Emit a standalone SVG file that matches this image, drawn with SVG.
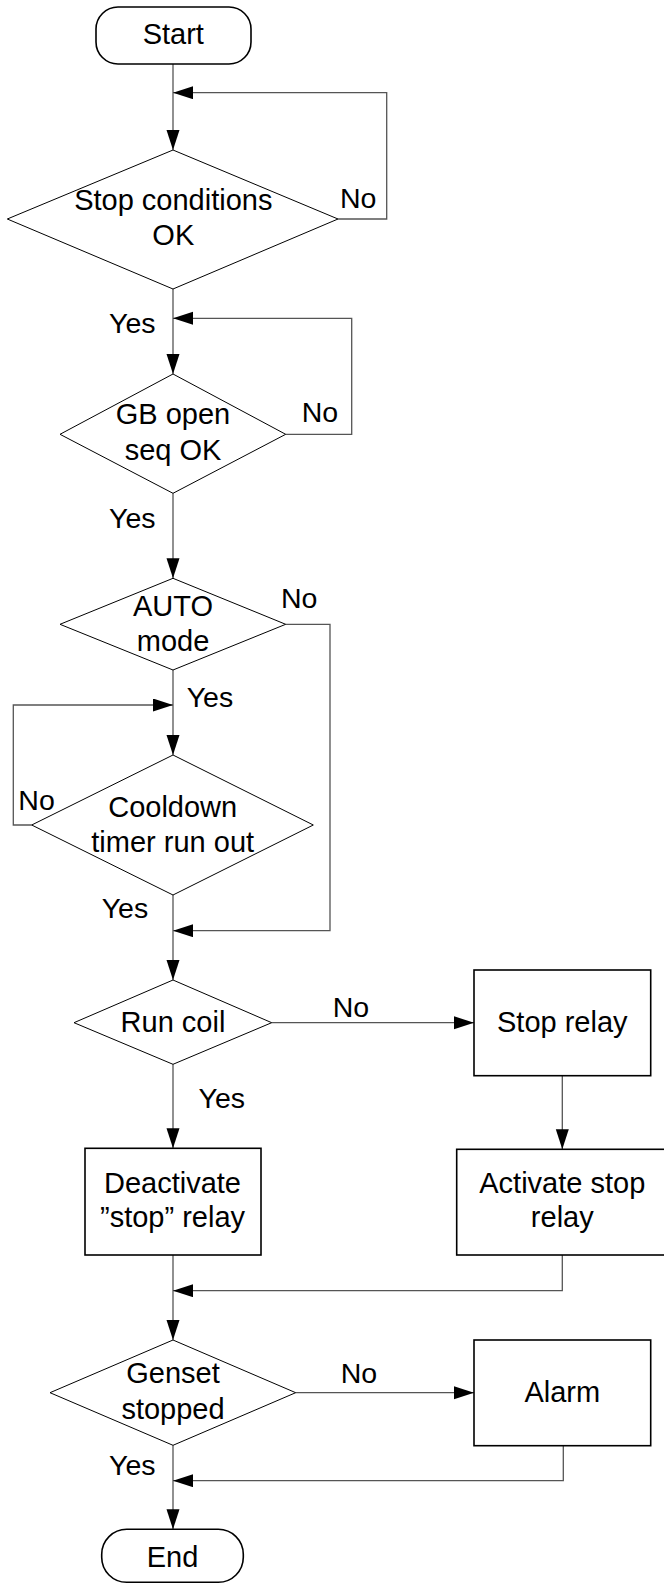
<svg xmlns="http://www.w3.org/2000/svg" width="664" height="1584" viewBox="0 0 664 1584">
<style>
.t{font-family:"Liberation Sans",Arial,sans-serif;font-size:29px;fill:#000;text-anchor:middle}
.l{font-family:"Liberation Sans",Arial,sans-serif;font-size:28.5px;fill:#000}
.d{fill:#fff;stroke:#000;stroke-width:1}
.b{fill:#fff;stroke:#000;stroke-width:1.6}
.c{fill:none;stroke:#555;stroke-width:1.3;marker-end:url(#ah)}
</style>
<defs>
<marker id="ah" markerUnits="userSpaceOnUse" markerWidth="22" markerHeight="14" refX="20" refY="6.5" orient="auto">
<path d="M0,0 L20,6.5 L0,13 Z" fill="#000"/>
</marker>
</defs>
<rect width="664" height="1584" fill="#fff"/>
<g id="connectors">
<path class="c" d="M173,64 V150"/>
<path class="c" d="M338,219 H386.7 V92.7 H173"/>
<path class="c" d="M173,289 V374"/>
<path class="c" d="M285.7,434.3 H351.7 V318.3 H173"/>
<path class="c" d="M173,493.3 V578.3"/>
<path class="c" d="M173,670 V755"/>
<path class="c" d="M31.7,825 H13.3 V705 H173"/>
<path class="c" d="M285.7,624.3 H330 V930.7 H173"/>
<path class="c" d="M173,895 V980"/>
<path class="c" d="M271.7,1022.7 H474"/>
<path class="c" d="M173,1064.3 V1148.3"/>
<path class="c" d="M562.3,1075.7 V1149.3"/>
<path class="c" d="M173,1255 V1340"/>
<path class="c" d="M562.3,1255 V1290.7 H173"/>
<path class="c" d="M295.7,1392.7 H474"/>
<path class="c" d="M173,1445.3 V1529.3"/>
<path class="c" d="M563.3,1445.7 V1480.7 H173"/>
<text class="l" x="340" y="208">No</text>
<text class="l" x="109" y="333">Yes</text>
<text class="l" x="301.7" y="421.7">No</text>
<text class="l" x="109" y="528.3">Yes</text>
<text class="l" x="281" y="608.3">No</text>
<text class="l" x="186.7" y="706.7">Yes</text>
<text class="l" x="18.3" y="810">No</text>
<text class="l" x="101.7" y="918.3">Yes</text>
<text class="l" x="332.7" y="1016.7">No</text>
<text class="l" x="198.5" y="1108.3">Yes</text>
<text class="l" x="340.7" y="1383.3">No</text>
<text class="l" x="109" y="1475">Yes</text>
</g>
<g id="start">
<rect class="b" x="96" y="7" width="155" height="57" rx="22" ry="22"/>
<text class="t" x="173.3" y="44">Start</text>
</g>
<g id="stop-conditions">
<path class="d" d="M173,150 L338,219 L173,289 L7.3,219 Z"/>
<text class="t" x="173.3" y="210">Stop conditions</text>
<text class="t" x="173.3" y="245">OK</text>
</g>
<g id="gb-open">
<path class="d" d="M173,374 L285.7,434.3 L173,493.3 L60,434.3 Z"/>
<text class="t" x="173" y="424">GB open</text>
<text class="t" x="173" y="460">seq OK</text>
</g>
<g id="auto-mode">
<path class="d" d="M173,578.3 L285.7,624.3 L173,670 L60,624.3 Z"/>
<text class="t" x="173" y="616">AUTO</text>
<text class="t" x="173" y="651">mode</text>
</g>
<g id="cooldown">
<path class="d" d="M173,755 L313.3,825 L173,895 L31.7,825 Z"/>
<text class="t" x="172.7" y="816.7">Cooldown</text>
<text class="t" x="172.7" y="851.7">timer run out</text>
</g>
<g id="run-coil">
<path class="d" d="M173,980 L271.7,1022.7 L173,1064.3 L74,1022.7 Z"/>
<text class="t" x="173" y="1031.7">Run coil</text>
</g>
<g id="stop-relay">
<rect class="b" x="474" y="970" width="176.7" height="105.7"/>
<text class="t" x="562.3" y="1031.7">Stop relay</text>
</g>
<g id="deactivate">
<rect class="b" x="85" y="1148.3" width="176" height="106.7"/>
<text class="t" x="172.5" y="1193.3">Deactivate</text>
<text class="t" x="172.5" y="1226.7">”stop” relay</text>
</g>
<g id="activate">
<rect class="b" x="456.7" y="1149.3" width="211" height="105.7"/>
<text class="t" x="562.3" y="1193.3">Activate stop</text>
<text class="t" x="562.3" y="1226.7">relay</text>
</g>
<g id="genset">
<path class="d" d="M173,1340 L295.7,1392.7 L173,1445.3 L50,1392.7 Z"/>
<text class="t" x="173" y="1383.3">Genset</text>
<text class="t" x="173" y="1419.3">stopped</text>
</g>
<g id="alarm">
<rect class="b" x="474" y="1340" width="176.7" height="105.7"/>
<text class="t" x="562.3" y="1401.7">Alarm</text>
</g>
<g id="end">
<rect class="b" x="101.7" y="1529.3" width="141.6" height="53" rx="25" ry="25"/>
<text class="t" x="172.5" y="1566.7">End</text>
</g>
</svg>
